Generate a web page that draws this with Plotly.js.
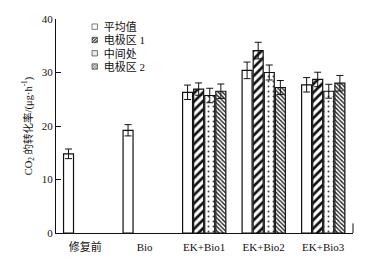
<!DOCTYPE html>
<html>
<head>
<meta charset="utf-8">
<script src="https://cdn.plot.ly/plotly-3.0.1.min.js"></script>
<style>
html,body{margin:0;padding:0;background:#fff;}
#chart{width:379px;height:263px;}
.legend .legendpoints path{transform-box:fill-box;transform-origin:center;scale:0.45;translate:22px 0;}
</style>
</head>
<body>
<div id="chart"></div>
<script>
var categories = ['修复前', 'Bio', 'EK+Bio1', 'EK+Bio2', 'EK+Bio3'];
var seriesNames = ['平均值', '电极区 1', '中间处', '电极区 2'];
var avgValues = [14.8, 19.2, 26.3, 30.4, 27.7];
var avgErrors = [0.9, 1.05, 1.35, 1.55, 1.35];
var zone1Values = [null, null, 26.9, 34.1, 28.7];
var zone1Errors = [0, 0, 1.15, 1.55, 1.35];
var midValues = [null, null, 25.7, 30.0, 26.5];
var midErrors = [0, 0, 1.35, 1.4, 1.3];
var zone2Values = [null, null, 26.5, 27.2, 28.0];
var zone2Errors = [0, 0, 1.35, 1.3, 1.45];
var yTicks = [0, 10, 20, 30, 40];

var FONT = 'Liberation Serif, Times New Roman, Noto Sans CJK SC, serif';
var patterns = [
  {shape: ''},
  {shape: '/', fgcolor: '#111', bgcolor: '#fff', size: 6, solidity: 0.45, fillmode: 'replace'},
  {shape: '.', fgcolor: '#444', bgcolor: '#fff', size: 5, solidity: 0.12, fillmode: 'replace'},
  {shape: '\\', fgcolor: '#222', bgcolor: '#fff', size: 3, solidity: 0.45, fillmode: 'replace'}
];
var valueSets = [avgValues, zone1Values, midValues, zone2Values];
var errorSets = [avgErrors, zone1Errors, midErrors, zone2Errors];

var data = valueSets.map(function (vals, i) {
  return {
    type: 'bar',
    name: seriesNames[i],
    x: categories,
    y: vals,
    marker: {
      color: '#fff',
      line: {color: '#111', width: 1.2},
      pattern: patterns[i]
    },
    error_y: {type: 'data', array: errorSets[i], visible: true, color: '#111', thickness: 1, width: 3.5}
  };
});

var layout = {
  width: 379,
  height: 263,
  margin: {l: 56, r: 26, t: 16, b: 29.5},
  paper_bgcolor: '#fff',
  plot_bgcolor: '#fff',
  barmode: 'group',
  bargap: 0.255,
  bargroupgap: 0.1,
  font: {family: FONT, size: 11, color: '#111'},
  showlegend: true,
  legend: {
    x: 0.026, y: 1.032, xanchor: 'left', yanchor: 'top',
    bgcolor: 'rgba(0,0,0,0)',
    font: {family: FONT, size: 11, color: '#111'},
    tracegroupgap: 0,
    itemwidth: 30
  },
  xaxis: {
    type: 'category',
    range: [-0.49, 4.5],
    showline: true, linecolor: '#111', linewidth: 1,
    ticks: '', showgrid: false, zeroline: false,
    tickfont: {family: FONT, size: 11, color: '#111'},
    ticklabelstandoff: 4
  },
  yaxis: {
    range: [0, 40],
    tickvals: yTicks,
    ticktext: yTicks.map(String),
    ticks: 'inside', ticklen: 5, tickcolor: '#111', tickwidth: 1,
    showline: true, linecolor: '#111', linewidth: 1,
    showgrid: false, zeroline: false,
    tickfont: {family: FONT, size: 11, color: '#111'},
    title: {
      text: 'CO<sub>2</sub> 的转化率/(μg·h<sup>-1</sup>)',
      font: {family: FONT, size: 10.5, color: '#111'},
      standoff: 7
    }
  },
  shapes: [
    {type: 'line', xref: 'paper', yref: 'paper', x0: 1, x1: 1, y0: 0, y1: 0.045,
     line: {color: '#111', width: 1}}
  ]
};

var ROW_STEP = 13.3;
Plotly.newPlot('chart', data, layout, {displayModeBar: false, staticPlot: true}).then(function (gd) {
  var items = gd.querySelectorAll('.legend .traces');
  var y0 = null;
  items.forEach(function (el, i) {
    var t = el.getAttribute('transform') || '';
    var m = t.match(/translate\(\s*([-\d.e]+)[ ,]+([-\d.e]+)\s*\)/);
    if (!m) return;
    var x = parseFloat(m[1]), y = parseFloat(m[2]);
    if (y0 === null) y0 = y;
    el.setAttribute('transform', 'translate(' + x + ',' + (y0 + i * ROW_STEP) + ')');
  });
});
</script>
</body>
</html>
